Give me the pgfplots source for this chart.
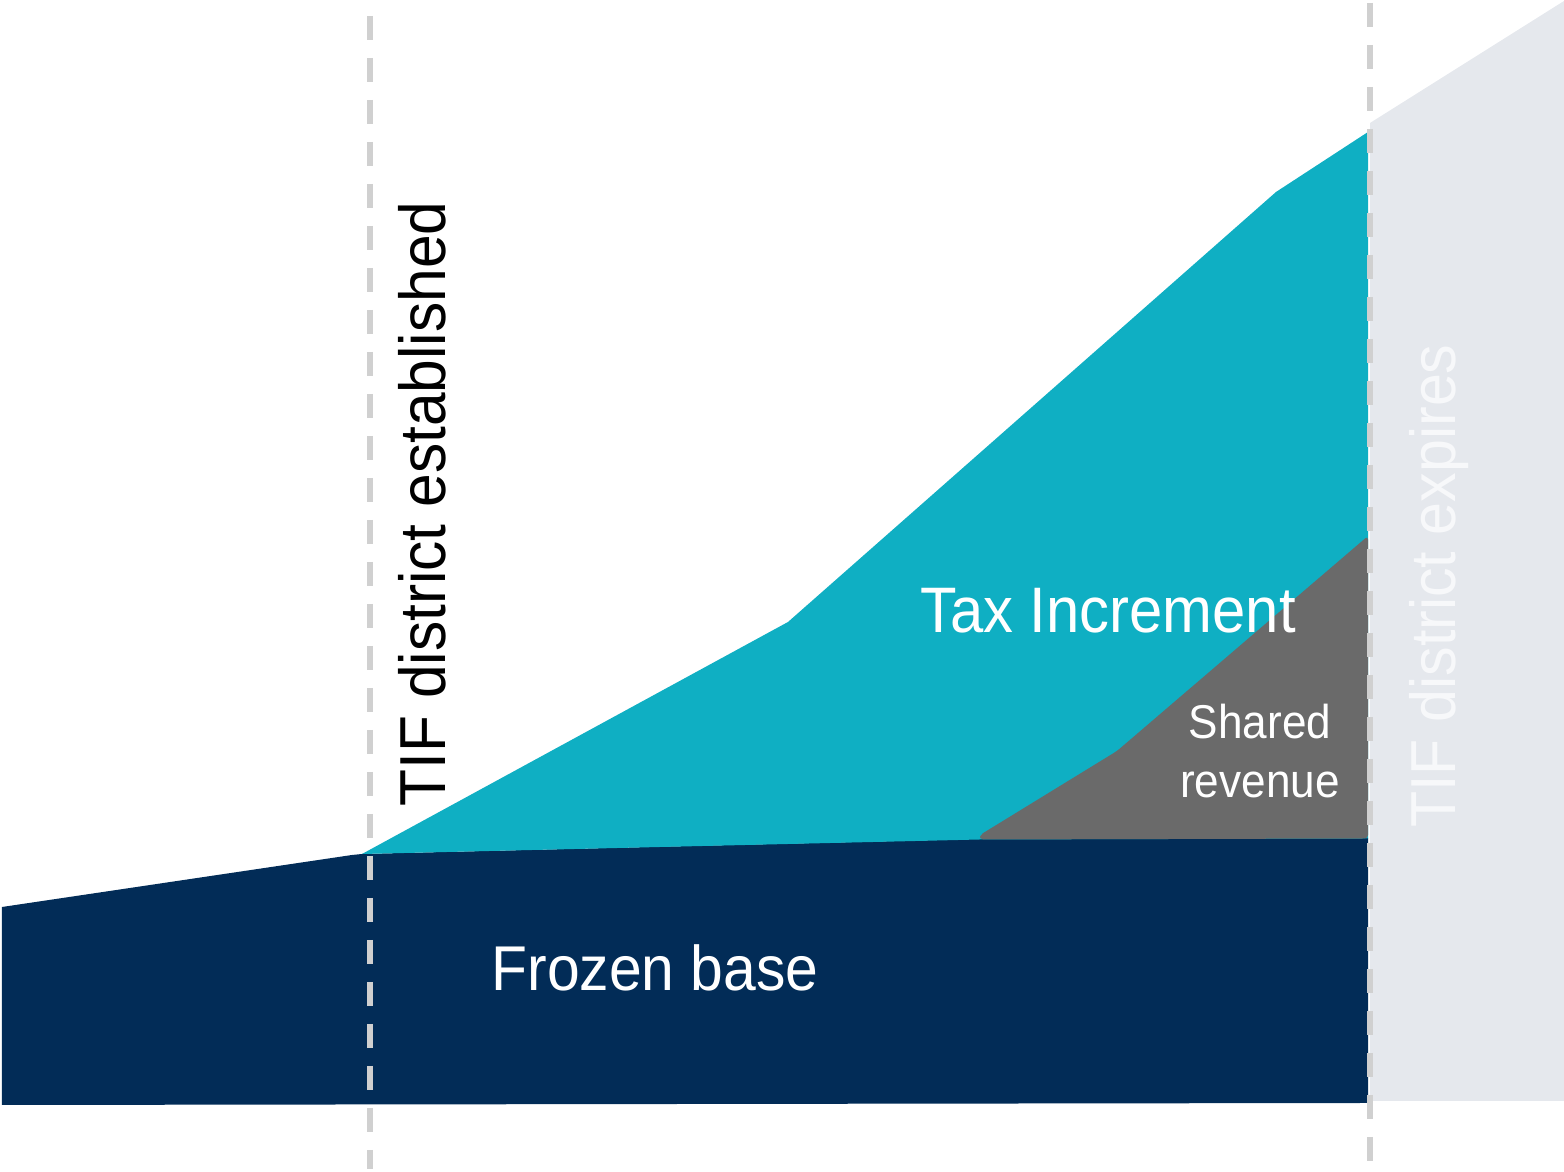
\documentclass[border=0pt]{standalone}
\usepackage{pgfplots}
\pgfplotsset{compat=1.18}
\usepackage{fontspec}
\setmainfont{Liberation Sans}[FakeStretch=0.93]
\definecolor{navy}{HTML}{022C57}
\definecolor{teal}{HTML}{0FAFC3}
\definecolor{shgray}{HTML}{6A6A6A}
\definecolor{expgray}{HTML}{E5E8ED}
\definecolor{dashgray}{HTML}{D0D0D0}
\definecolor{exptext}{HTML}{F7F8FA}
\begin{document}
\begin{tikzpicture}
\begin{axis}[
  scale only axis, width=15.64cm, height=11.68cm,
  xmin=0, xmax=1564, ymin=0, ymax=1168, y dir=reverse,
  axis lines=none, clip=false,
]
\path (rel axis cs:0,0) rectangle (rel axis cs:1,1);
% expiry region
\addplot[fill=expgray, draw=none] coordinates {(1370,122) (1564,0) (1564,1100) (1370,1100)} -- cycle;
% frozen base
\addplot[fill=navy, draw=none] coordinates {(2,906) (352,854) (362,853) (980,838) (1368,837) (1368,1102) (2,1104)} -- cycle;
% tax increment
\addplot[fill=teal, draw=none] coordinates {(362,853) (788,621) (1276,191) (1368,131) (1368,837.5) (980,838.5)} -- cycle;
% shared revenue
\addplot[fill=shgray, draw=none, rounded corners=1pt] coordinates {(980,834) (1117,750) (1368,535) (1368,837.5) (980,838.5)} -- cycle;
% dashed lines
\addplot[draw=dashgray, line width=1.7pt, dash pattern=on 6.83pt off 5.12pt] coordinates {(370,15) (370,1168)};
\addplot[draw=dashgray, line width=1.7pt, dash pattern=on 6.83pt off 5.12pt] coordinates {(1370,2) (1370,1168)};
% labels
\node[anchor=base, text=white, font=\fontsize{18}{20}\selectfont, inner sep=0pt] at (axis cs:655,990) {Frozen base};
\node[anchor=base, text=white, font=\fontsize{18.3}{20}\selectfont, inner sep=0pt] at (axis cs:1108,632) {Tax Increment};
\node[anchor=base, text=white, font=\fontsize{13.5}{16}\selectfont, inner sep=0pt] at (axis cs:1260,738) {Shared};
\node[anchor=base, text=white, font=\fontsize{13.5}{16}\selectfont, inner sep=0pt] at (axis cs:1260,797) {revenue};
\node[anchor=base, rotate=90, text=black, font=\fontsize{18.5}{20}\selectfont, inner sep=0pt] at (axis cs:445,503) {TIF district established};
\node[anchor=base, rotate=90, text=exptext, font=\fontsize{18.1}{20}\selectfont, inner sep=0pt] at (axis cs:1455,585) {TIF district expires};
\end{axis}
\end{tikzpicture}
\end{document}
